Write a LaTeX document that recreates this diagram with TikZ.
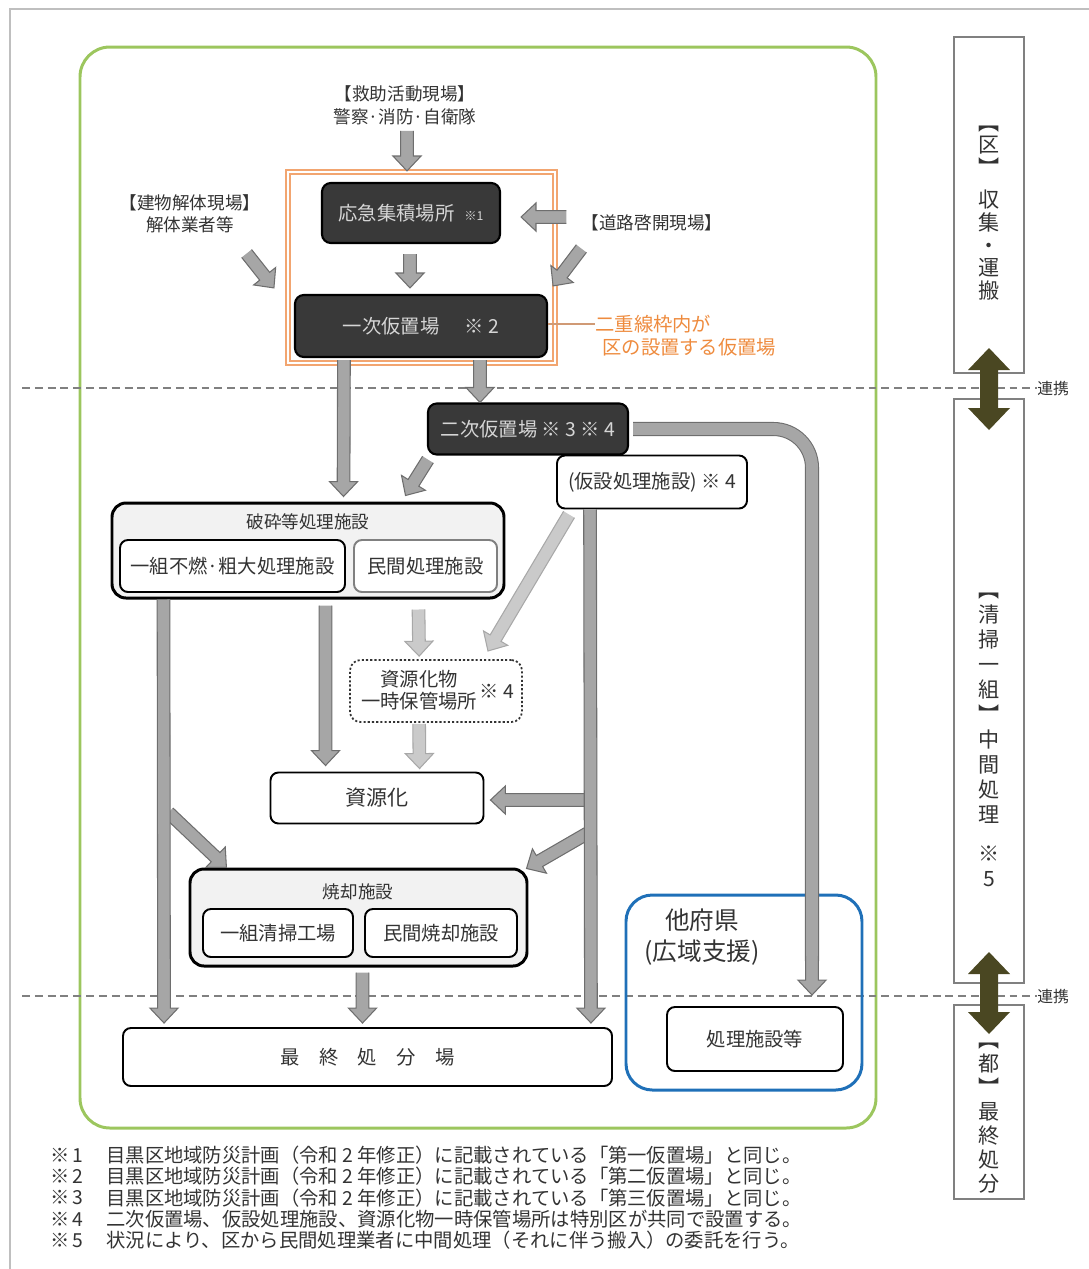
\documentclass[tikz,border=0pt]{standalone}
\usepackage{fontspec}
\setmainfont{Noto Sans CJK JP}
\usetikzlibrary{calc}
\definecolor{inkgray}{HTML}{333333}
\definecolor{boxdark}{HTML}{393939}
\definecolor{boxtext}{HTML}{D6D6D6}
\definecolor{groupfill}{HTML}{F2F2F2}
\definecolor{flowmid}{HTML}{A6A6A6}
\definecolor{flowedge}{HTML}{6E6E6E}
\definecolor{flowlight}{HTML}{CACACA}
\definecolor{flowlightedge}{HTML}{A8A8A8}
\definecolor{linkolive}{HTML}{4A4722}
\definecolor{frameg}{HTML}{9CC65E}
\definecolor{frameo}{HTML}{F2A570}
\definecolor{texto}{HTML}{EE8B3E}
\definecolor{frameb}{HTML}{1F70B8}
\newlength\pxl
\setlength\pxl{0.02cm}
\makeatletter
\newcommand\flowarrow[3][flow]{%
  \path #2 coordinate (fa-s) #3 coordinate (fa-e);
  \pgfpointdiff{\pgfpointanchor{fa-s}{center}}{\pgfpointanchor{fa-e}{center}}%
  \edef\fadx{\the\pgf@x}\edef\fady{\the\pgf@y}%
  \pgfmathveclen{\fadx}{\fady}\let\falen\pgfmathresult
  \pgfmathanglebetweenpoints{\pgfpointanchor{fa-s}{center}}{\pgfpointanchor{fa-e}{center}}%
  \let\faang\pgfmathresult
  \begin{scope}[shift={(fa-s)}, rotate=\faang]
    \path[#1, draw=none] (0pt,-3.6pt) -- (\falen pt-8.5pt,-3.6pt) -- (\falen pt-8.5pt,-8pt) -- (\falen pt,0pt)
      -- (\falen pt-8.5pt,8pt) -- (\falen pt-8.5pt,3.6pt) -- (0pt,3.6pt) -- cycle;
    \path[#1, fill=none] (0pt,-3.6pt) -- (\falen pt-8.5pt,-3.6pt) -- (\falen pt-8.5pt,-8pt) -- (\falen pt,0pt)
      -- (\falen pt-8.5pt,8pt) -- (\falen pt-8.5pt,3.6pt) -- (0pt,3.6pt);
  \end{scope}}
\makeatother

\begin{document}
\begin{tikzpicture}[x=0.02cm, y=-0.02cm,
  sz/.style 2 args={minimum width=#1*\pxl, minimum height=#2*\pxl},
  lab/.style={inner sep=0pt, align=center, text=inkgray, font=\fontsize{10}{13}\selectfont},
  darkbox/.style={draw=black, fill=boxdark, text=boxtext, line width=1.2pt, rounded corners=5pt, inner sep=0pt, font=\fontsize{11}{13}\selectfont},
  whitebox/.style={draw=black, fill=white, text=inkgray, line width=1.1pt, rounded corners=4.5pt, inner sep=0pt, font=\fontsize{11}{13}\selectfont},
  groupbox/.style={draw=black, fill=groupfill, line width=1.7pt, rounded corners=8pt, inner sep=0pt},
  sidebox/.style={draw=gray, line width=0.8pt, fill=white, inner sep=0pt},
  vert/.style={inner sep=0pt, align=center, text=inkgray},
  note/.style={inner sep=0pt, text=inkgray, font=\fontsize{11}{13}\selectfont},
  flow/.style={fill=flowmid, draw=flowedge, line width=0.6pt},
  flowlite/.style={fill=flowlight, draw=flowlightedge, line width=0.6pt},
  link/.style={fill=linkolive},
  dashline/.style={draw=gray, line width=0.7pt, dash pattern=on 4.5pt off 2.8pt}]
\useasboundingbox (0,0) rectangle (1089,1269);
\draw[gray!50, line width=1pt] (10,1269) -- (10,9) -- (1089,9);
\draw[frameg, line width=1.7pt, rounded corners=17pt] (80,47) rectangle (876,1128);
\foreach \c/\n in {388/a,996/b} {
  \node[lab, font=\fontsize{9}{11}\selectfont, anchor=west] (renkei\n) at (1037,\c) {連携};
  \draw[dashline] (22,\c) -- (renkei\n.west);
}

\node[lab] (kyujo) at (405,105) {【救助活動現場】\\警察·消防·自衛隊};
\node[lab, font=\fontsize{10}{12.5}\selectfont] (kaitai) at (190,214) {【建物解体現場】\\解体業者等};
\node[lab] (doro) at (652,223) {【道路啓開現場】};
\node[draw=frameo, double=white, double distance=1.5pt, line width=0.8pt, sz={267}{191}] (waku) at (421.5,267.5) {};
\node[darkbox, sz={178}{60}] (kinkyu) at (411,213) {応急集積場所\hspace{0.5em}{\fontsize{7}{8}\selectfont ※1}};
\node[darkbox, sz={252}{62}] (ichiji) at (421,326) {一次仮置場\hspace{1.3em}※ 2};
\node[lab, text=texto, font=\fontsize{11}{13}\selectfont, anchor=west] (chuki1) at (595,324) {二重線枠内が};
\node[lab, text=texto, font=\fontsize{11}{13}\selectfont, anchor=west] (chuki2) at (602,347) {区の設置する仮置場};
\draw[frameo!70!gray, line width=0.6pt] (ichiji.east |- chuki1.west) -- (chuki1.west);

\node[darkbox, sz={200}{51}] (niji) at (528,429) {二次仮置場 ※ 3 ※ 4};
\node[whitebox, sz={190}{53}] (kasetsu) at (652,482) {(仮設処理施設) ※ 4};

\node[groupbox, sz={392}{95}] (hasai) at (308,550.5) {};
\node[lab] (hasaititle) at (308,522) {破砕等処理施設};
\node[whitebox, sz={225}{52}] (funen) at (232.5,566) {一組不燃·粗大処理施設};
\node[whitebox, draw=gray, sz={143}{52}] (minkan) at (425.5,566) {民間処理施設};

\node[draw=inkgray, line width=1pt, dash pattern=on 1.2pt off 1.2pt, rounded corners=6pt, fill=white, sz={172}{62}] (hokan) at (436,691) {};
\node[lab, font=\fontsize{11}{12.5}\selectfont] (hokantext) at (419,690) {資源化物\\一時保管場所};
\node[lab, font=\fontsize{11}{13}\selectfont] (hokanmark) at (497,691) {※ 4};

\node[whitebox, font=\fontsize{12}{14}\selectfont, sz={213}{51}] (shigenka) at (377,798) {資源化};

\node[groupbox, sz={337}{97}] (shokyaku) at (358.5,917.5) {};
\node[lab] (shokyakutitle) at (358,892) {焼却施設};
\node[whitebox, sz={150}{48}] (kojo) at (278,933) {一組清掃工場};
\node[whitebox, sz={152}{48}] (minkansho) at (441,933) {民間焼却施設};

\node[whitebox, sz={489}{58}] (saishu) at (367.5,1057) {最\hspace{1em}終\hspace{1em}処\hspace{1em}分\hspace{1em}場};

\node[draw=frameb, line width=1.7pt, rounded corners=15pt, sz={236}{195}] (tafu) at (744,992.5) {};
\node[lab, font=\fontsize{14}{17.5}\selectfont] (tafutext) at (702,937) {他府県\\(広域支援)};
\node[whitebox, sz={176}{64}] (shori) at (755,1039) {処理施設等};

\node[sidebox, sz={70}{336}] (kubox) at (989,205) {};
\node[vert, font=\fontsize{12}{13}\selectfont] (kutext) at (989,213) {︻\\区\\︼\\[5pt]収\\集\\・\\運\\搬};
\node[sidebox, sz={70}{584}] (ichikumibox) at (989,691) {};
\node[vert, font=\fontsize{12}{14.2}\selectfont] (ichikumitext) at (989,740) {︻\\清\\掃\\一\\組\\︼\\中\\間\\処\\理\\[8pt]※\\5};
\node[sidebox, sz={70}{194}] (tobox) at (989,1102) {};
\node[vert, font=\fontsize{12}{13.6}\selectfont] (totext) at (989,1118) {︻\\都\\︼\\最\\終\\処\\分};
\foreach \c in {389,993}
  \fill[link] (989,\c-41) -- (1010,\c-19) -- (998,\c-19) -- (998,\c+19) -- (1010,\c+19) -- (989,\c+41)
    -- (968,\c+19) -- (980,\c+19) -- (980,\c-19) -- (968,\c-19) -- cycle;

\flowarrow{($(kyujo.south)+(2,6)$)}{($(kinkyu.north)+(-4,-11)$)}
\flowarrow{($(kinkyu.south)+(-1,10)$)}{($(ichiji.north)+(-11,-6)$)}
\flowarrow{($(doro.west)+(-15,-6)$)}{($(kinkyu.east)+(20,4)$)}
\flowarrow{($(doro.south west)+(0,17)$)}{($(ichiji.north east)+(5,-8)$)}
\flowarrow{($(kaitai.south east)+(-14,20)$)}{($(ichiji.north west)+(-20,-6)$)}
\flowarrow{($(ichiji.south west)+(50,2)$)}{($(hasai.north west)+(233,-5)$)}
\flowarrow{($(ichiji.south)+(59,2)$)}{($(niji.north)+(-48,0)$)}
\flowarrow{($(niji.south west)+(1,4)$)}{($(hasai.north west)+(295,-6)$)}
\draw[rounded corners=22pt, draw=flowmid, line width=6.8pt, preaction={draw=flowedge, line width=8pt}]
  ($(niji.east)+(4,0)$) -| ($(shori.north)+(57,-45)$);
\flowarrow{($(shori.north)+(57,-50)$)}{($(shori.north)+(57,-11)$)}
\flowarrow[flowlite]{($(kasetsu.south west)+(13,5)$)}{($(hokan.north east)+(-35,-8)$)}
\flowarrow{($(shigenka.east)+(106,2)$)}{($(shigenka.east)+(6,2)$)}
\flowarrow{($(shokyaku.north east)+(62,-36)$)}{($(shokyaku.north east)+(-2,1)$)}
\flowarrow{($(kasetsu.south west)+(34,0)$)}{($(saishu.north east)+(-22,-4)$)}
\flowarrow{($(shokyaku.north west)+(-20,-55)$)}{($(shokyaku.north west)+(38,0)$)}
\flowarrow{($(hasai.south west)+(53,0)$)}{($(saishu.north west)+(42,-4)$)}
\flowarrow{($(hasai.south west)+(215,6)$)}{($(shigenka.north west)+(56,-6)$)}
\flowarrow[flowlite]{($(hasai.south west)+(308,10)$)}{($(hokan.north west)+(70,-3)$)}
\flowarrow[flowlite]{($(hokan.south west)+(70,1)$)}{($(shigenka.north west)+(150,-3)$)}
\flowarrow{($(shokyaku.south)+(4,5)$)}{($(saishu.north)+(-5,-4)$)}

\foreach \k/\nt in {1/目黒区地域防災計画（令和 2 年修正）に記載されている「第一仮置場」と同じ。,
  2/目黒区地域防災計画（令和 2 年修正）に記載されている「第二仮置場」と同じ。,
  3/目黒区地域防災計画（令和 2 年修正）に記載されている「第三仮置場」と同じ。,
  4/二次仮置場、仮設処理施設、資源化物一時保管場所は特別区が共同で設置する。,
  5/状況により、区から民間処理業者に中間処理（それに伴う搬入）の委託を行う。} {
  \node[note, anchor=west] (mark\k) at (50,1134+21.3*\k) {※\,\k};
  \node[note, anchor=west] (note\k) at (106,1134+21.3*\k) {\nt};
}
\end{tikzpicture}
\end{document}
